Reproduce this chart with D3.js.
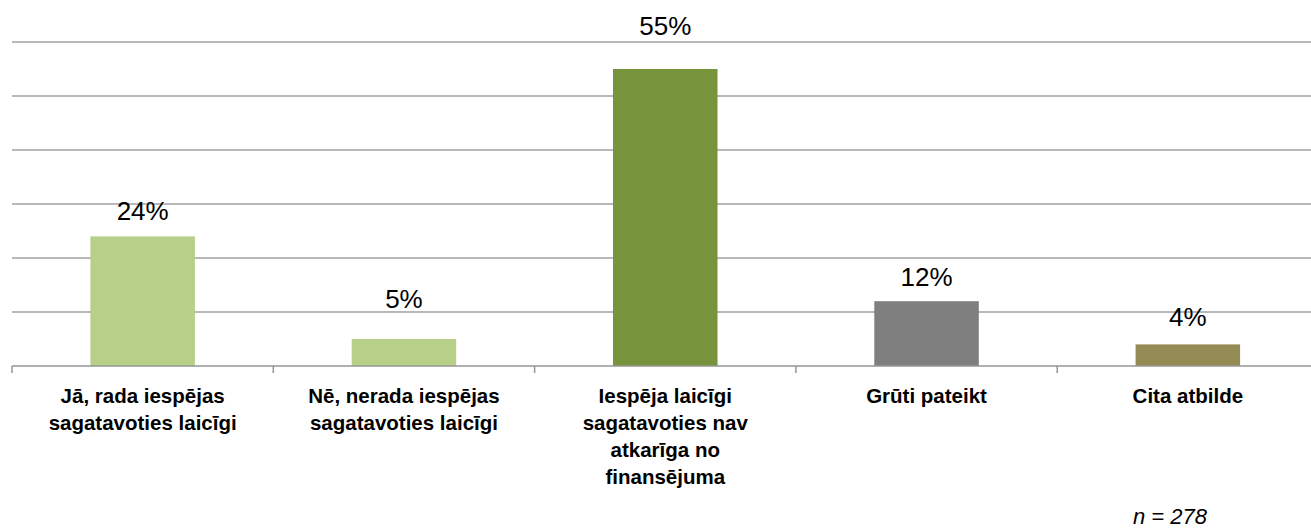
<!DOCTYPE html>
<html>
<head>
<meta charset="utf-8">
<script src="https://cdn.jsdelivr.net/npm/d3@7"></script>
<style>
  html, body { margin: 0; padding: 0; background: #fff; overflow: hidden; }
  svg { display: block; font-family: "Liberation Sans", Arial, sans-serif; }
</style>
</head>
<body>
<svg id="chart" width="1311" height="531"></svg>
<script>
// chart data
var categories = [
    ['Jā, rada iespējas', 'sagatavoties laicīgi'],
    ['Nē, nerada iespējas', 'sagatavoties laicīgi'],
    ['Iespēja laicīgi', 'sagatavoties nav', 'atkarīga no', 'finansējuma'],
    ['Grūti pateikt'],
    ['Cita atbilde']
];
var values = [24, 5, 55, 12, 4];
var colors = ['#b7cf89', '#b7cf89', '#77933c', '#7f7f7f', '#948a54'];
var yTicks = [0, 10, 20, 30, 40, 50, 60];

// label gaps above bars (as placed in the original)
var labelGap = [16, 31, 34, 15, 18];

var svg = d3.select('#chart');

var x0 = 12, x1 = 1318.5;
var xScale = d3.scaleBand()
    .domain(d3.range(values.length))
    .range([x0, x1])
    .paddingInner(0.6)
    .paddingOuter(0.3);

var yScale = d3.scaleLinear()
    .domain([0, 60])
    .range([366, 42]);

// gridlines
svg.selectAll('.grid')
    .data(yTicks.filter(function(d) { return d > 0; }))
    .join('line')
    .attr('class', 'grid')
    .attr('x1', x0)
    .attr('x2', 1311)
    .attr('y1', function(d) { return yScale(d); })
    .attr('y2', function(d) { return yScale(d); })
    .attr('stroke', '#a0a0a0')
    .attr('stroke-width', 1.5);

// bars
svg.selectAll('.bar')
    .data(values)
    .join('rect')
    .attr('class', 'bar')
    .attr('x', function(d, i) { return xScale(i); })
    .attr('width', xScale.bandwidth())
    .attr('y', function(d) { return yScale(d); })
    .attr('height', function(d) { return yScale(0) - yScale(d); })
    .attr('fill', function(d, i) { return colors[i]; });

// baseline and category ticks
var step = (x1 - x0) / values.length;
svg.append('line')
    .attr('x1', x0).attr('x2', 1311)
    .attr('y1', yScale(0)).attr('y2', yScale(0))
    .attr('stroke', '#969696')
    .attr('stroke-width', 1.5);
svg.selectAll('.tick')
    .data(d3.range(values.length + 1))
    .join('line')
    .attr('class', 'tick')
    .attr('x1', function(d) { return x0 + d * step; })
    .attr('x2', function(d) { return x0 + d * step; })
    .attr('y1', yScale(0))
    .attr('y2', yScale(0) + 7)
    .attr('stroke', '#969696')
    .attr('stroke-width', 1.5);

// value labels
svg.selectAll('.val')
    .data(values)
    .join('text')
    .attr('class', 'val')
    .attr('x', function(d, i) { return xScale(i) + xScale.bandwidth() / 2; })
    .attr('y', function(d, i) { return yScale(d) - labelGap[i]; })
    .attr('text-anchor', 'middle')
    .attr('font-size', 26)
    .attr('fill', '#000')
    .text(function(d) { return d + '%'; });

// category labels
var cat = svg.selectAll('.cat')
    .data(categories)
    .join('text')
    .attr('class', 'cat')
    .attr('text-anchor', 'middle')
    .attr('font-size', 20.5)
    .attr('font-weight', 'bold')
    .attr('fill', '#000');
cat.selectAll('tspan')
    .data(function(d, i) { return d.map(function(t) { return {t: t, i: i}; }); })
    .join('tspan')
    .attr('x', function(d) { return xScale(d.i) + xScale.bandwidth() / 2; })
    .attr('y', function(d, j) { return 403 + j * 27; })
    .text(function(d) { return d.t; });

// sample size note
var note = svg.append('text')
    .attr('x', 1170)
    .attr('y', 524)
    .attr('text-anchor', 'middle')
    .attr('font-size', 22)
    .attr('font-style', 'italic');
note.append('tspan').text('n');
note.append('tspan').text(' = 278');
</script>
</body>
</html>
